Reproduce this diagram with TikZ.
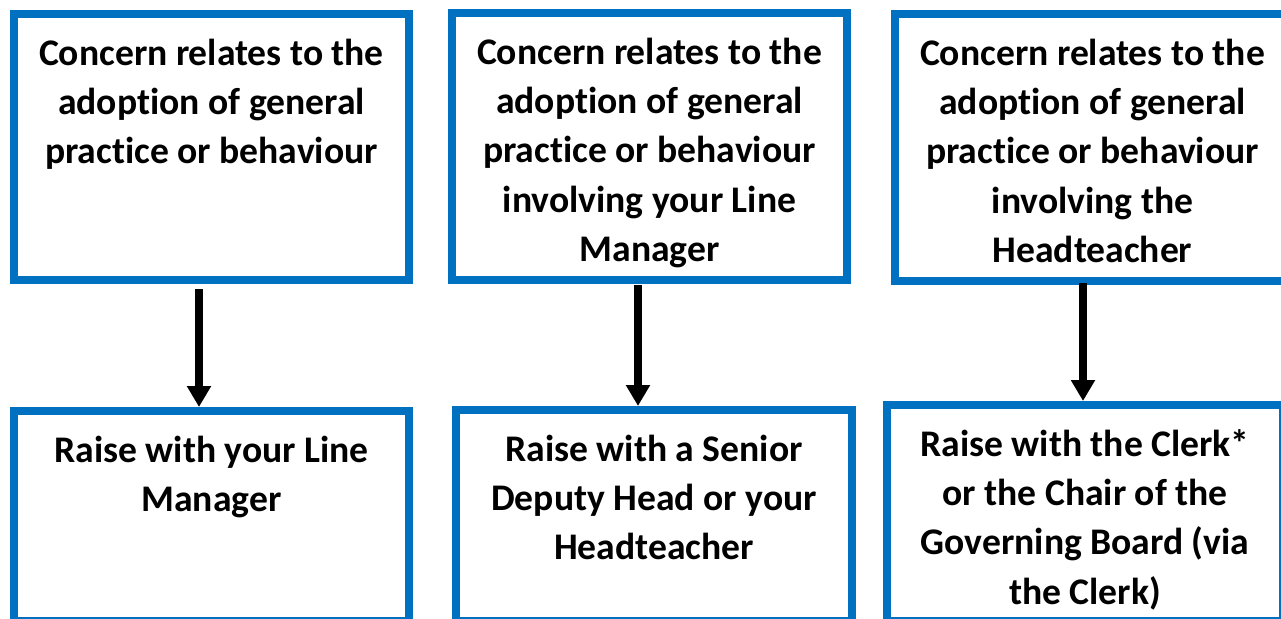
\documentclass[tikz,border=0pt]{standalone}
\usepackage{fontspec}
\setmainfont{Carlito}[Ligatures=NoCommon]
\usetikzlibrary{arrows.meta,calc}
\definecolor{boxblue}{HTML}{0070C0}
\newcommand{\firstln}{\rule{0pt}{25pt}}
\begin{document}
\begin{tikzpicture}[x=0.75pt,y=-0.75pt,
  box/.style={draw=boxblue, line width=6pt, outer sep=0pt, inner sep=0pt, fill=white},
  txt/.style={anchor=north, inner sep=0pt, align=center, text=black,
    font=\bfseries\fontsize{28.2}{36.9}\selectfont},
  arr/.style={draw=black, line width=6pt, -{Triangle[length=15.75pt,width=17.25pt]}}]
\useasboundingbox (0,0) rectangle (1281,618);
\fill[white] (0,0) rectangle (1281,618);
\clip (0,0) rectangle (1281,618);
% boxes
\node[box, minimum width=296.25pt, minimum height=199.5pt] (b1) at (211.5,147) {};
\node[box, minimum width=296.25pt, minimum height=200.25pt] (b2) at (649.5,146.5) {};
\node[box, minimum width=296.25pt, minimum height=200.25pt] (b3) at (1092.5,147.5) {};
\node[box, minimum width=296.25pt, minimum height=157.5pt] (b4) at (211.5,516) {};
\node[box, minimum width=297pt, minimum height=158.25pt] (b5) at (654,515.5) {};
\node[box, minimum width=297pt, minimum height=162pt] (b6) at (1085,513) {};
% texts
\node[txt] (t1) at ($(b1.north)+(0,17.8)$) {\firstln Concern relates to the\\adoption of general\\practice or behaviour};
\node[txt] (t2) at ($(b2.north)+(0,17.8)$) {\firstln Concern relates to the\\adoption of general\\practice or behaviour\\involving your Line\\Manager};
\node[txt] (t3) at ($(b3.north)+(0,17.8)$) {\firstln Concern relates to the\\adoption of general\\practice or behaviour\\involving the\\Headteacher};
\node[txt] (t4) at ($(b4.north)+(0,17.8)$) {\firstln Raise with your Line\\Manager};
\node[txt] (t5) at ($(b5.north)+(0,17.8)$) {\firstln Raise with a Senior\\Deputy Head or your\\Headteacher};
\node[txt] (t6) at ($(b6.north)+(0,17.8)$) {\firstln Raise with the Clerk*\\or the Chair of the\\Governing Board (via\\the Clerk)};
% arrows
\draw[arr] ($(b1.south)+(-12.5,9)$) -- ($(b4.north)+(-12.5,-4)$);
\draw[arr] ($(b2.south)+(-11.5,5)$) -- ($(b5.north)+(-16,-4)$);
\draw[arr] ($(b3.south)+(-9.5,2)$) -- ($(b6.north)+(-2,-4)$);
\end{tikzpicture}
\end{document}
